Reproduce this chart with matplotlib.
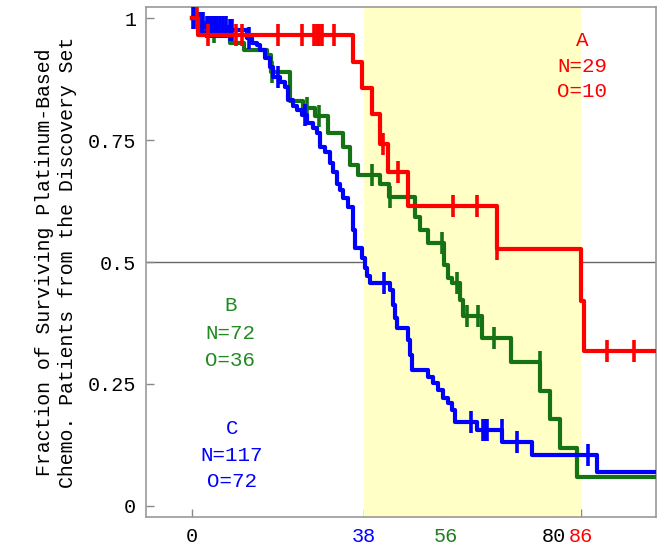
import numpy as np
import matplotlib
matplotlib.use("Agg")
import matplotlib.pyplot as plt

plt.rcParams['font.family'] = ['Liberation Mono', 'DejaVu Sans Mono']

# group A (red)
red_t = [1.4, 35.7, 37.7, 39.7, 41.6, 43.3, 47.8, 67.3, 86.0, 86.6]
red_s = [0.966, 0.910, 0.856, 0.803, 0.743, 0.685, 0.615, 0.526, 0.42, 0.317]
red_cens = [1.2, 3.7, 9.8, 11.1, 19.0, 24.4, 27.0, 27.6, 28.2, 28.8, 31.3,
            42.2, 45.5, 57.6, 62.9, 67.5, 91.7, 97.6]

# group B (green)
green_t = [1.4, 8.5, 11.5, 16.6, 17.5, 21.7, 24.6, 27.2, 30.1, 33.4,
           35.0, 36.7, 41.6, 43.5, 49.3, 50.4, 52.2, 55.7, 56.6, 57.4,
           59.2, 59.9, 64.1, 70.5, 76.9, 79.1, 81.3, 85.0]
green_s = [0.971, 0.949, 0.934, 0.924, 0.889, 0.83, 0.816, 0.80, 0.764, 0.736,
           0.698, 0.678, 0.661, 0.633, 0.592, 0.565, 0.54, 0.494, 0.467, 0.457,
           0.422, 0.39, 0.344, 0.294, 0.235, 0.178, 0.118, 0.059]
green_cens = [5.0, 17.8, 25.5, 28.0, 39.8, 43.8, 55.3, 58.6, 60.8, 63.2, 66.7, 76.8]

# group C (blue)
blue_t = [1.0, 3.0, 8.0, 12.2, 13.3, 14.4, 15.1, 16.2, 17.3, 17.9,
          19.5, 20.6, 21.3, 22.4, 23.2, 24.4, 25.4, 26.8, 27.7, 28.3,
          29.4, 30.5, 31.2, 32.1, 32.7, 33.4, 34.5, 35.6, 36.0, 37.6,
          38.3, 38.7, 39.4, 43.8, 44.4, 44.9, 45.3, 47.7, 48.2, 48.6,
          52.2, 53.3, 54.4, 55.5, 56.6, 57.5, 58.1, 63.0, 68.5, 75.1, 89.5]
blue_s = [0.991, 0.983, 0.975, 0.96, 0.95, 0.945, 0.934, 0.918, 0.9, 0.88,
          0.869, 0.858, 0.832, 0.821, 0.811, 0.801, 0.786, 0.774, 0.764, 0.735,
          0.725, 0.703, 0.684, 0.661, 0.647, 0.631, 0.613, 0.566, 0.529, 0.508,
          0.487, 0.472, 0.457, 0.442, 0.411, 0.385, 0.364, 0.34, 0.309, 0.278,
          0.264, 0.251, 0.237, 0.222, 0.21, 0.196, 0.171, 0.155, 0.131, 0.104, 0.069]
blue_cens = [0.3, 0.8, 1.5, 2.0, 2.4, 3.3, 3.8, 4.3, 4.8, 5.2, 5.6, 6.2, 7.0,
             7.5, 8.5, 9.0, 12.6, 19.0, 24.9, 42.4, 61.7, 64.3, 64.8, 65.2,
             68.4, 71.8, 87.5]

x_ticks = [0, 38, 56, 80, 86]
x_tick_colors = ['black', 'blue', '#1e7e1e', 'black', 'red']
y_ticks = [0, 0.25, 0.5, 0.75, 1]
y_tick_labels = ['0', '0.25', '0.5', '0.75', '1']

XMAX = 102.5
RED = '#ff0000'
GREEN = '#157315'
GREEN_TXT = '#238a23'
BLUE = '#0000ff'


def km(ax, t, s, cens, color):
    tt = [0] + list(t) + [XMAX]
    ss = [1] + list(s) + [s[-1]]
    ax.step(tt, ss, where='post', color=color, lw=3.0, zorder=3)
    idx = np.searchsorted(tt, cens, side='right') - 1
    cy = np.array(ss)[idx]
    ax.plot(cens, cy, ls='none', marker='|', ms=16, mew=2.6, color=color, zorder=3)


fig = plt.figure(figsize=(6.65, 5.46), dpi=100)
ax = fig.add_axes([0.2195, 0.0531, 0.767, 0.934])

ax.axhline(0.5, color='#666666', lw=1.0, zorder=1)
ax.axvspan(38, 86, color='#ffffc6', zorder=2, lw=0)

km(ax, green_t, green_s, green_cens, GREEN)
km(ax, blue_t, blue_s, blue_cens, BLUE)
km(ax, red_t, red_s, red_cens, RED)

ax.set_xlim(-10.1, XMAX)
ax.set_ylim(-0.023, 1.023)

ax.set_xticks(x_ticks)
ax.set_xticklabels([str(v) for v in x_ticks], fontsize=14.5)
for lbl, c in zip(ax.get_xticklabels(), x_tick_colors):
    lbl.set_color(c)
ax.set_yticks(y_ticks)
ax.set_yticklabels(y_tick_labels, fontsize=14.5)
ax.tick_params(direction='in', length=6, color='#888888', width=1)
ax.tick_params(axis='x', pad=7)
ax.tick_params(axis='y', pad=7)

for sp in ax.spines.values():
    sp.set_color('#999999')
    sp.set_linewidth(1.2)

ax.set_ylabel('Fraction of Surviving Platinum-Based\nChemo. Patients from the Discovery Set',
              fontsize=14.3, labelpad=8, linespacing=1.25)

txt_kw = dict(ha='center', va='center', fontsize=15, zorder=4)
ax.text(86.2, 0.955, 'A', color=RED, **txt_kw)
ax.text(86.2, 0.902, 'N=29', color=RED, **txt_kw)
ax.text(86.2, 0.850, 'O=10', color=RED, **txt_kw)
ax.text(8.5, 0.411, 'B', color=GREEN_TXT, **txt_kw)
ax.text(8.5, 0.354, 'N=72', color=GREEN_TXT, **txt_kw)
ax.text(8.5, 0.299, 'O=36', color=GREEN_TXT, **txt_kw)
ax.text(8.9, 0.159, 'C', color=BLUE, **txt_kw)
ax.text(8.9, 0.103, 'N=117', color=BLUE, **txt_kw)
ax.text(8.9, 0.049, 'O=72', color=BLUE, **txt_kw)

fig.savefig('out.png', dpi=100)
